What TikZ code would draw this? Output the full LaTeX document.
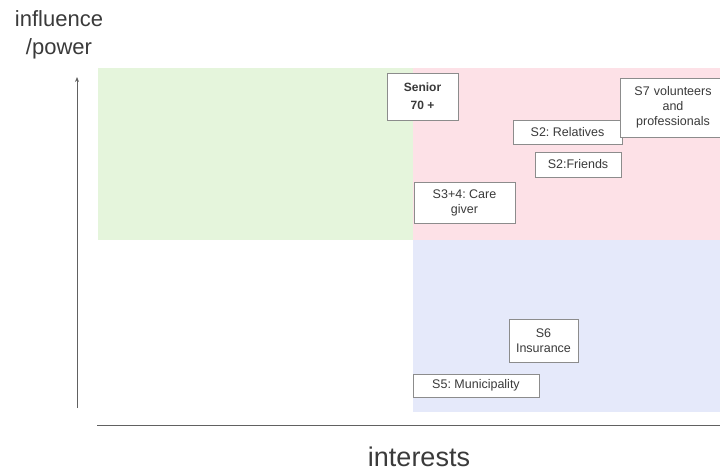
\documentclass[tikz,border=0pt]{standalone}
\usepackage{fontspec}
\setmainfont{Liberation Sans}
\usetikzlibrary{arrows.meta}
\frenchspacing
\definecolor{zonegreen}{HTML}{E5F5DC}
\definecolor{zonepink}{HTML}{FDE1E7}
\definecolor{zoneblue}{HTML}{E5E9FA}
\definecolor{inkgray}{HTML}{3A3A3A}
\definecolor{boxline}{HTML}{8C8C8C}
\begin{document}
\begin{tikzpicture}[x=1pt,y=-1pt,
  stake/.style={draw=boxline,line width=0.8pt,fill=white,align=center,
    inner sep=1pt,text=inkgray,font=\fontsize{12.5}{15}\selectfont},
  axis/.style={draw=inkgray!80,line width=1pt},
  axislabel/.style={text=inkgray,align=center}]
\useasboundingbox (0,0) rectangle (720,472);
\clip (0,0) rectangle (720,472);
% quadrants
\fill[zonegreen] (98,68) rectangle (413,240);
\fill[zonepink] (413,68) rectangle (720,240);
\fill[zoneblue] (413,240) rectangle (720,412);
% axes
\coordinate (ybot) at (77,408);
\coordinate (ytop) at (77,77);
\coordinate (xl) at (97,425);
\coordinate (xr) at (720,425);
\draw[axis,-{Stealth[length=5pt,width=4pt]}] (ybot) -- (ytop);
\draw[axis] (xl) -- (xr);
\node[axislabel,font=\fontsize{22}{28}\selectfont] (ylab) at (59,35) {influence\\/power};
\node[axislabel,font=\fontsize{27}{30}\selectfont] (xlab) at (419,457) {interests};
% stakeholders
\node[stake,minimum width=71pt,minimum height=47pt,font=\bfseries\fontsize{12}{18}\selectfont] (senior) at (422.5,96.5) {Senior\\70 +};
\node[stake,minimum width=109pt,minimum height=24pt] (relatives) at (567.5,132) {S2: Relatives};
\node[stake,minimum width=106pt,minimum height=59pt,text width=100pt] (s7) at (673,107.5) {S7 volunteers\\and\\professionals};
\node[stake,minimum width=86pt,minimum height=25pt] (friends) at (578,164.5) {S2:Friends};
\node[stake,minimum width=101pt,minimum height=41pt] (care) at (464.5,202.5) {S3+4: Care\\giver};
\node[stake,minimum width=69pt,minimum height=43pt] (s6) at (543.5,340.5) {S6\\Insurance};
\node[stake,minimum width=126pt,minimum height=23pt] (s5) at (476,385.5) {S5: Municipality};
\end{tikzpicture}
\end{document}
